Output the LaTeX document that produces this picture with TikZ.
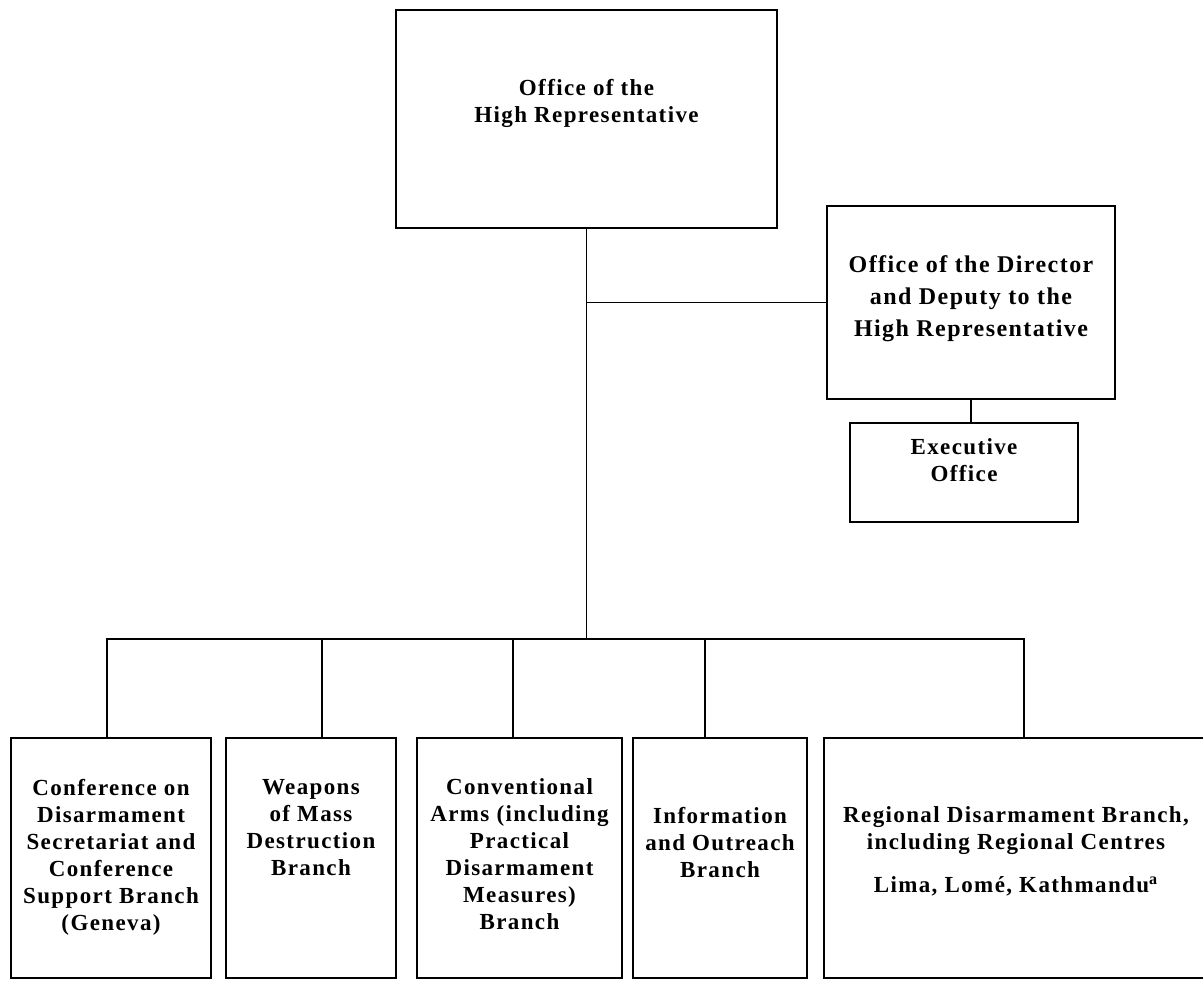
\documentclass[tikz,border=0pt]{standalone}
\usepackage{fontspec}
\setmainfont{Liberation Serif}[LetterSpace=6]
\usetikzlibrary{positioning}

\begin{document}
\begin{tikzpicture}[x=0.5pt, y=-0.5pt, line width=0.75pt,
  unit/.style={draw, inner sep=0pt},
  txt/.style={inner sep=0pt, align=center, font=\bfseries\fontsize{11.5}{13.5}\selectfont}]

\useasboundingbox (0,0) rectangle (1203,980);

\node[unit, minimum width=190.5pt, minimum height=109pt](hr) at (586.5,119){};
\node[unit, minimum width=144pt, minimum height=96.5pt](dir) at (971,302.5){};
\node[unit, minimum width=114pt, minimum height=49.5pt](exec) at (964,472.5){};

\node[unit, minimum width=100pt, minimum height=120pt](b1) at (111,858){};
\node[unit, minimum width=85pt, minimum height=120pt](b2) at (311,858){};
\node[unit, minimum width=102.5pt, minimum height=120pt](b3) at (519.5,858){};
\node[unit, minimum width=87pt, minimum height=120pt](b4) at (720,858){};
\node[unit, minimum width=200pt, minimum height=120pt](b5) at (1024,858){};

\node[txt, below=34.5pt of hr.north](hrtxt){Office of the\\High Representative};
\node[txt, font=\bfseries\fontsize{12}{16}\selectfont, below=25pt of dir.north](dirtxt){Office of the Director\\and Deputy to the\\High Representative};
\node[txt, below=8pt of exec.north](exectxt){Executive\\Office};

\node[txt, below=20.5pt of b1.north](b1txt){Conference on\\Disarmament\\Secretariat and\\Conference\\Support Branch\\(Geneva)};
\node[txt, below=20.5pt of b2.north](b2txt){Weapons\\of Mass\\Destruction\\Branch};
\node[txt, below=20.5pt of b3.north](b3txt){Conventional\\Arms (including\\Practical\\Disarmament\\Measures)\\Branch};
\node[txt, below=34.5pt of b4.north](b4txt){Information\\and Outreach\\Branch};
\node[txt, below=34.5pt of b5.north, xshift=-4pt](b5txt){Regional Disarmament Branch,\\including Regional Centres\\[8pt]Lima, Lomé, Kathmandu\textsuperscript{a}};

\coordinate (bus) at (586.5,639);
\coordinate (jn) at (hr.south |- dir.west);
\draw (hr.south) -- (bus);
\draw (jn) -- (dir.west);
\draw (dir.south) -- (dir.south |- exec.north);
\foreach \b/\d in {b1/-2, b2/5.5, b3/-3.25, b4/-7.5, b5/0}
  \draw ([xshift=\d pt]\b.north) |- (bus);

\end{tikzpicture}
\end{document}
